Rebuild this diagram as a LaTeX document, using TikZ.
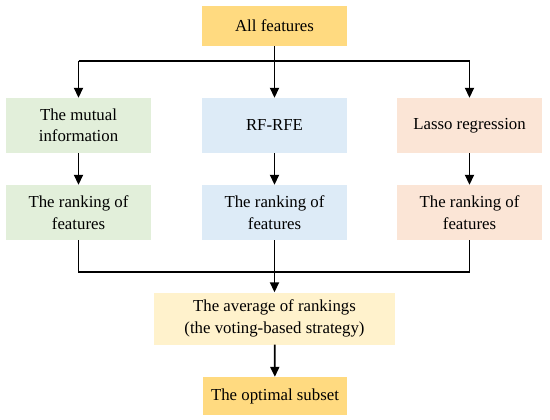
\documentclass[tikz,border=0pt]{standalone}
\usepackage{fontspec}
\setmainfont{Liberation Serif}
\usetikzlibrary{arrows.meta}
\definecolor{cgold}{HTML}{FFDA80}
\definecolor{cgreen}{HTML}{E2EFDA}
\definecolor{cblue}{HTML}{DDEBF7}
\definecolor{cpeach}{HTML}{FBE5D6}
\definecolor{cpale}{HTML}{FFF2CC}
\begin{document}
\begin{tikzpicture}[x=1pt,y=-1pt,
  box/.style={rectangle, draw=none, align=center, inner sep=2pt,
    font=\fontsize{16.8}{21.5}\selectfont, text=black},
  small/.style={box, minimum width=145pt, minimum height=55pt},
  line/.style={draw=black, line width=1.8pt},
  arr/.style={line, -{Triangle[length=10pt,width=9pt]}}]
\useasboundingbox[fill=white] (0,0) rectangle (550,420);
\node[box, fill=cgold, minimum width=145pt, minimum height=40pt] (allf) at (274.5,26) {All features};
\node[small, fill=cgreen] (mi) at (78.5,125.5) {The mutual\\information};
\node[small, fill=cblue] (rf) at (274.5,125.5) {RF-RFE};
\node[small, fill=cpeach] (la) at (469.5,125.5) {Lasso regression};
\node[small, fill=cgreen] (r1) at (78.5,212.5) {The ranking of\\features};
\node[small, fill=cblue] (r2) at (274.5,212.5) {The ranking of\\features};
\node[small, fill=cpeach] (r3) at (469.5,212.5) {The ranking of\\features};
\node[box, fill=cpale, minimum width=241pt, minimum height=52pt] (avg) at (274.5,318.5) {The average of rankings\\(the voting-based strategy)};
\node[box, fill=cgold, minimum width=144pt, minimum height=38pt] (opt) at (275,396) {The optimal subset};
\coordinate (jt) at (274.5,61);
\coordinate (jb) at (274.5,272);
\draw[line] (allf.south) -- (jt);
\draw[line] (mi.north |- jt) -- (la.north |- jt);
\draw[arr] (mi.north |- jt) -- (mi.north);
\draw[arr] (jt) -- (rf.north);
\draw[arr] (la.north |- jt) -- (la.north);
\draw[arr] (mi) -- (r1);
\draw[arr] (rf) -- (r2);
\draw[arr] (la) -- (r3);
\draw[line] (r1.south) -- (r1.south |- jb) -- (r3.south |- jb) -- (r3.south);
\draw[line] (r2.south) -- (jb);
\draw[arr] (jb) -- (avg.north);
\draw[arr] (avg) -- (opt);
\end{tikzpicture}
\end{document}
